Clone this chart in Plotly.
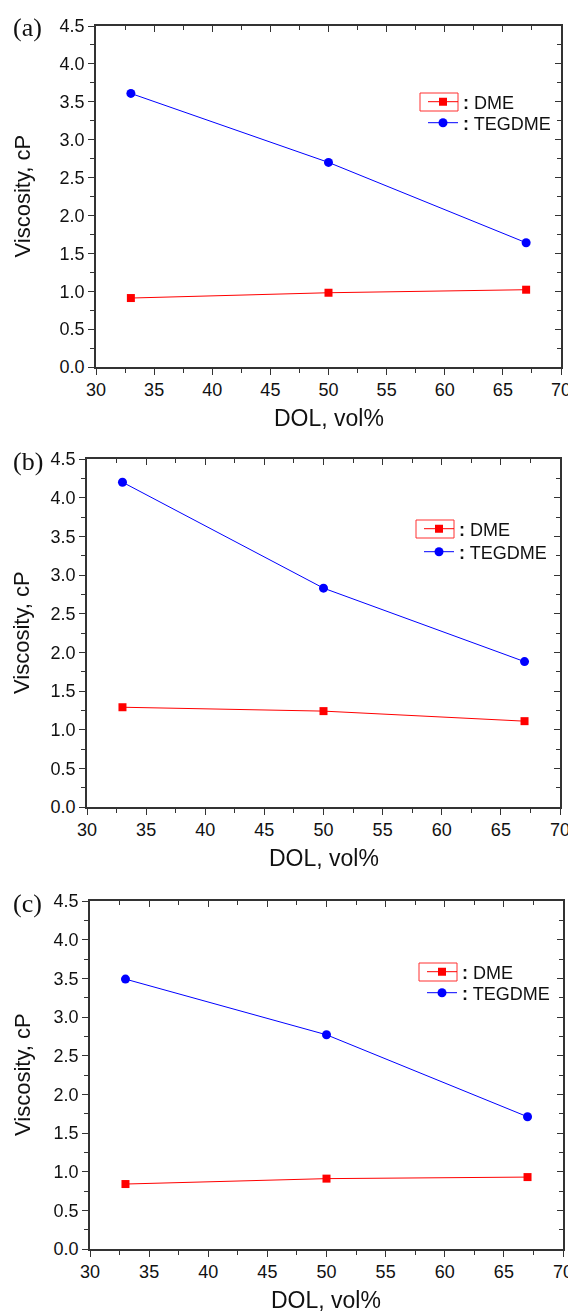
import plotly.graph_objects as go

dol = [33, 50, 67]
dme_a = [0.91, 0.98, 1.02]
teg_a = [3.61, 2.70, 1.64]
dme_b = [1.29, 1.24, 1.11]
teg_b = [4.20, 2.83, 1.88]
dme_c = [0.84, 0.91, 0.93]
teg_c = [3.49, 2.77, 1.71]
panel_labels = ["(a)", "(b)", "(c)"]
x_title = "DOL, vol%"
y_title = "Viscosity, cP"
series_names = ["<b>:</b> DME", "<b>:</b> TEGDME"]

# page has an 8px body margin: design in page pixels, convert to paper coords
OFF = 8
W, H = 576 - OFF, 1315 - OFF


def px(x):
    return (x - OFF) / W


def py(y):
    return 1 - (y - OFF) / H


# panel geometry in page pixels: left, right, top, bottom
geo = [(96, 561, 26, 367), (87, 560, 459, 807), (90, 563, 901, 1249)]
# legend: colon x, row1 centre y, row2 centre y
leg_pos = [(463, 102, 123), (459, 529, 552), (462, 972, 993)]

data = [(dme_a, teg_a), (dme_b, teg_b), (dme_c, teg_c)]
AX = "#333333"
FONT = "Liberation Sans, Arial, sans-serif"

fig = go.Figure()
layout = {}
annotations = []
shapes = []
for i, ((dme, teg), (l, r, t, b)) in enumerate(zip(data, geo)):
    n = i + 1
    xs = "" if n == 1 else str(n)
    ys = xs
    xo = str(n + 3)
    yo = str(n + 3)
    lg1 = "legend" if n == 1 else f"legend{2 * n - 1}"
    lg2 = f"legend{2 * n}"
    xd = [px(l), px(r)]
    yd = [py(b), py(t)]
    fig.add_trace(go.Scatter(x=dol, y=dme, mode="lines+markers", name=series_names[0],
                             line=dict(color="#ff0000", width=1),
                             marker=dict(symbol="square", size=8, color="#ff0000"),
                             xaxis="x" + xs, yaxis="y" + ys, legend=lg1))
    fig.add_trace(go.Scatter(x=dol, y=teg, mode="lines+markers", name=series_names[1],
                             line=dict(color="#0000ff", width=1),
                             marker=dict(symbol="circle", size=9, color="#0000ff"),
                             xaxis="x" + xs, yaxis="y" + ys, legend=lg2))
    # invisible traces to activate mirror axes (top / right with inward ticks)
    fig.add_trace(go.Scatter(x=dol, y=teg, mode="markers", opacity=0, showlegend=False,
                             hoverinfo="skip", xaxis="x" + xo, yaxis="y" + ys))
    fig.add_trace(go.Scatter(x=dol, y=teg, mode="markers", opacity=0, showlegend=False,
                             hoverinfo="skip", xaxis="x" + xs, yaxis="y" + yo))
    common_x = dict(range=[30, 70], domain=xd, showgrid=False, zeroline=False,
                    showline=True, linecolor=AX, linewidth=1.5, tickcolor=AX, tickwidth=1.2,
                    dtick=5, tick0=30, automargin=False)
    common_y = dict(range=[0, 4.5], domain=yd, showgrid=False, zeroline=False,
                    showline=True, linecolor=AX, linewidth=1.5, tickcolor=AX, tickwidth=1.2,
                    dtick=0.5, tick0=0, automargin=False)
    layout["xaxis" + xs] = dict(common_x, anchor="y" + ys, side="bottom", ticks="outside",
                                ticklen=6, tickfont=dict(family=FONT, size=18, color="#111"),
                                minor=dict(ticks="outside", ticklen=4, dtick=2.5, tick0=30,
                                           tickcolor=AX, showgrid=False))
    layout["yaxis" + ys] = dict(common_y, anchor="x" + xs, side="left", ticks="outside",
                                ticklen=6, tickformat=".1f",
                                tickfont=dict(family=FONT, size=18, color="#111"),
                                minor=dict(ticks="outside", ticklen=4, dtick=0.25, tick0=0,
                                           tickcolor=AX, showgrid=False))
    layout["xaxis" + xo] = dict(common_x, anchor="y" + ys, overlaying="x" + xs, side="top",
                                ticks="inside", ticklen=6, showticklabels=False,
                                minor=dict(ticks="inside", ticklen=4, dtick=2.5, tick0=30,
                                           tickcolor=AX, showgrid=False))
    layout["yaxis" + yo] = dict(common_y, anchor="x" + xs, overlaying="y" + ys, side="right",
                                ticks="inside", ticklen=6, showticklabels=False,
                                minor=dict(ticks="inside", ticklen=4, dtick=0.25, tick0=0,
                                           tickcolor=AX, showgrid=False))
    cx, r1, r2 = leg_pos[i]
    for lg, ry in ((lg1, r1), (lg2, r2)):
        layout[lg] = dict(x=px(cx - 40), y=py(ry), xanchor="left", yanchor="middle",
                          bgcolor="rgba(0,0,0,0)", borderwidth=0,
                          font=dict(family=FONT, size=18, color="#111"), itemwidth=30)
    # Origin-style frame around the DME legend symbol
    shapes.append(dict(type="rect", xref="paper", yref="paper",
                       x0=px(cx - 43), x1=px(cx - 5), y0=py(r1 + 9), y1=py(r1 - 9),
                       line=dict(color="#ff3030", width=1), fillcolor="rgba(0,0,0,0)"))
    # axis titles and panel labels
    annotations.append(dict(text=x_title, xref="paper", yref="paper", x=px((l + r) / 2),
                            y=py(b + 51), xanchor="center", yanchor="middle",
                            showarrow=False, font=dict(family=FONT, size=23, color="#111")))
    annotations.append(dict(text=y_title, xref="paper", yref="paper", x=px(22),
                            y=py((t + b) / 2), xanchor="center", yanchor="middle",
                            textangle=-90, showarrow=False,
                            font=dict(family=FONT, size=22, color="#111")))
    annotations.append(dict(text=panel_labels[i], xref="paper", yref="paper", x=px(11),
                            y=py(t + 2), xanchor="left", yanchor="middle",
                            showarrow=False,
                            font=dict(family="Liberation Serif, Times New Roman, serif",
                                      size=26, color="#111")))

fig.update_layout(**layout)
fig.update_layout(width=W, height=H, margin=dict(l=0, r=0, t=0, b=0, autoexpand=False),
                  paper_bgcolor="white", plot_bgcolor="white",
                  annotations=annotations, shapes=shapes, showlegend=True)
fig.write_html("out.html")
